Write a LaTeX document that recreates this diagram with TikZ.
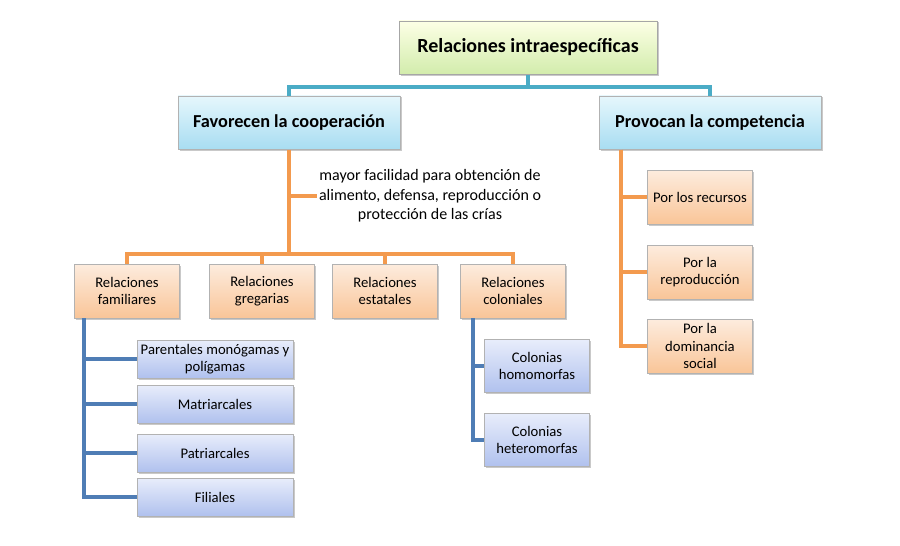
\documentclass[tikz,border=0pt]{standalone}
\usepackage{fontspec}
\setmainfont{Carlito}
\usetikzlibrary{shadows}
\definecolor{tealln}{HTML}{4BACC6}
\definecolor{orangeln}{HTML}{F39A4E}
\definecolor{blueln}{HTML}{4F7DB5}
\tikzset{
	boxbase/.style={draw,line width=0.5pt,align=center,inner sep=1pt,
		drop shadow={shadow xshift=1.2pt,shadow yshift=-1.2pt,fill=black!35,opacity=0.6}},
	rootbox/.style={boxbase,draw=black!35,top color=green!8!yellow!10,bottom color={rgb,255:red,210;green,236;blue,172},
		minimum width=193.5pt,minimum height=40pt,font=\fontsize{15}{18}\selectfont\bfseries},
	catbox/.style={boxbase,draw=black!30,top color={rgb,255:red,230;green,247;blue,252},bottom color={rgb,255:red,168;green,221;blue,242},
		minimum width=166.5pt,minimum height=40pt,font=\fontsize{13.7}{16}\selectfont\bfseries},
	orbox/.style={boxbase,draw=black!30,top color={rgb,255:red,253;green,236;blue,222},bottom color={rgb,255:red,249;green,197;blue,152},
		minimum width=79pt,minimum height=40.5pt,font=\fontsize{11}{13}\selectfont},
	bluebox/.style={boxbase,draw=black!30,top color={rgb,255:red,232;green,237;blue,251},bottom color={rgb,255:red,176;green,193;blue,238},
		minimum width=117pt,minimum height=28.5pt,font=\fontsize{11}{13}\selectfont},
	colbox/.style={bluebox,minimum width=79pt,minimum height=40pt},
	tealline/.style={tealln,line width=2.8pt},
	orline/.style={orangeln,line width=2.8pt},
	blline/.style={blueln,line width=2.8pt}
}
\begin{document}
\begin{tikzpicture}[x=0.75pt,y=-0.75pt]
	\useasboundingbox[fill=white] (0,0) rectangle (900,546);
	\node[rootbox] (root) at (528,47.5) {Relaciones intraespecíficas};
	\node[catbox] (fav) at (289,122.5) {Favorecen la cooperación};
	\node[catbox] (comp) at (710,122.5) {Provocan la competencia};
	\node[font=\fontsize{12}{14.5}\selectfont,align=center,inner sep=1pt] (txt) at (430,196)
		{mayor facilidad para obtención de\\alimento, defensa, reproducción o\\protección de las crías};
	\node[orbox] (fam) at (127,291) {Relaciones\\familiares};
	\node[orbox] (greg) at (262,291) {Relaciones\\gregarias};
	\node[orbox] (est) at (385,291) {Relaciones\\estatales};
	\node[orbox] (col) at (513,291) {Relaciones\\coloniales};
	\node[bluebox] (par) at (215,359) {Parentales monógamas y\\polígamas};
	\node[bluebox] (mat) at (215,404) {Matriarcales};
	\node[bluebox] (pat) at (215,453) {Patriarcales};
	\node[bluebox] (fil) at (215,497) {Filiales};
	\node[colbox] (hom) at (537,366) {Colonias\\homomorfas};
	\node[colbox] (het) at (537,440) {Colonias\\heteromorfas};
	\node[orbox] (rec) at (700,197) {Por los recursos};
	\node[orbox] (rep) at (700,272) {Por la\\reproducción};
	\node[orbox] (dom) at (700,346) {Por la\\dominancia\\social};
	\coordinate (tj) at (528,87);
	\coordinate (oj) at (289,254);
	\draw[tealline] (root.south) -- (tj) -| (fav.north);
	\draw[tealline] (tj) -| (comp.north);
	\draw[orline] (fav.south) -- (oj);
	\draw[orline] (fav.south |- txt.west) -- (txt.west);
	\foreach \n in {fam,greg,est,col}
		\draw[orline] (oj) -| (\n.north);
	\foreach \n in {par,mat,pat,fil}
		\draw[blline] ([xshift=7.5pt]fam.south west) |- (\n.west);
	\foreach \n in {hom,het}
		\draw[blline] ([xshift=9.75pt]col.south west) |- (\n.west);
	\foreach \n in {rec,rep,dom}
		\draw[orline] ([xshift=17pt]comp.south west) |- (\n.west);
\end{tikzpicture}
\end{document}
